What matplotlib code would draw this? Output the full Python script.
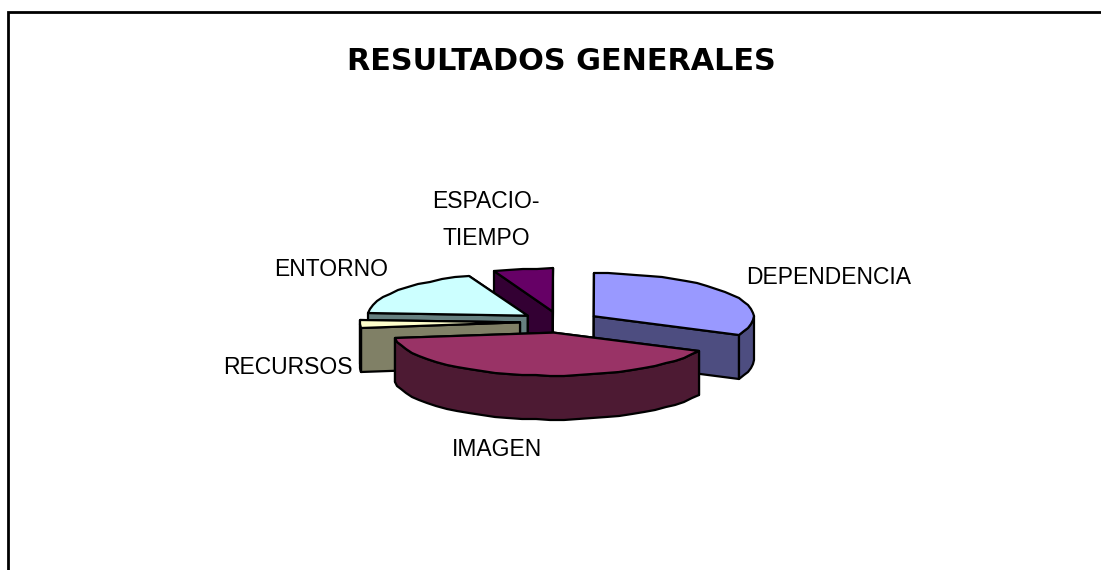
import matplotlib
matplotlib.use('Agg')
import matplotlib.pyplot as plt
import numpy as np

# Datos del grafico (%), en sentido horario desde las 12
categorias = ['DEPENDENCIA', 'IMAGEN', 'RECURSOS', 'ENTORNO', 'ESPACIO-\nTIEMPO']
valores = [32, 41, 3, 18, 6]
titulo = 'RESULTADOS GENERALES'

color_top = ['#9999FF', '#993366', '#FFFFCC', '#CCFFFF', '#660066']
color_lado = ['#4D4D80', '#4D1A33', '#808066', '#668080', '#330033']

# Geometria del pastel en pixeles de la figura
cx, cy = 560, 322
a, b = 160, 43      # semiejes de la elipse
alto = 44           # grosor del pastel
explode = 40
lw = 1.6

# posicion de las etiquetas
label_pos = [(829, 277), (497, 450), (288, 367), (331, 269), (486, 220)]

fig = plt.figure(figsize=(11.01, 5.70), dpi=100)
ax = fig.add_axes([0, 0, 1, 1])
ax.set_xlim(0, 1101)
ax.set_ylim(570, 0)
ax.axis('off')

# marco: solo arriba y a la izquierda
ax.plot([8, 8, 1101], [570, 12, 12], color='black', lw=2.0, solid_joinstyle='miter')


def cara(xs, ys, color, z):
    ax.fill(xs, ys, facecolor=color, edgecolor='black', lw=lw, joinstyle='round', zorder=z)


def rebanada(t1, t2, top, lado, z):
    # t1 > t2 en grados, va en sentido horario
    mid = np.radians((t1 + t2) / 2)
    x0 = cx + explode * np.cos(mid)
    y0 = cy - explode * b / a * np.sin(mid)
    t = np.radians(np.linspace(t1, t2, max(int((t1 - t2) / 5), 2) + 1))
    x = np.round(x0 + a * np.cos(t))
    y = np.round(y0 - b * np.sin(t))

    # caras radiales: primero la de atras
    radiales = sorted([(x[0], y[0]), (x[-1], y[-1])], key=lambda p: p[1])
    for i, (xr, yr) in enumerate(radiales):
        cara([x0, xr, xr, x0], [y0, yr, yr + alto, y0 + alto], lado, z + i * 0.1)

    # pared exterior: solo la parte de delante
    s = np.sin(t) <= 0
    if s.sum() > 1:
        xw, yw = x[s], y[s]
        cara(np.r_[xw, xw[::-1]], np.r_[yw, yw[::-1] + alto], lado, z + 0.3)

    cara(np.r_[x0, x], np.r_[y0, y], top, z + 0.4)


angulo = 90.0
rebanadas = []
for i, v in enumerate(valores):
    fin = angulo - v * 3.6
    rebanadas.append((angulo, fin, color_top[i], color_lado[i]))
    angulo = fin

# de atras hacia delante
rebanadas.sort(key=lambda r: -np.sin(np.radians((r[0] + r[1]) / 2)))
for k, (t1, t2, top, lado) in enumerate(rebanadas):
    rebanada(t1, t2, top, lado, 5 + k)

for nombre, (xl, yl) in zip(categorias, label_pos):
    ax.text(xl, yl, nombre, ha='center', va='center', fontsize=16.5, family='Liberation Sans',
            color='black', linespacing=1.8, zorder=20)

ax.text(561, 62, titulo, ha='center', va='center', fontsize=21.8, fontweight='bold',
        family='DejaVu Sans', color='black', zorder=20)

fig.savefig('out.png', dpi=100, facecolor='white')
